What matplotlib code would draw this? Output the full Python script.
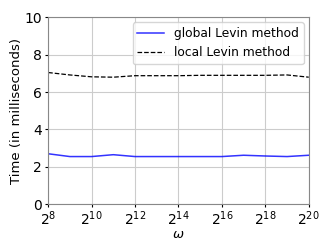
import matplotlib
matplotlib.use("Agg")
import matplotlib.pyplot as plt
import numpy as np

# exponents of omega (2^8 ... 2^20)
exponents = [8, 9, 10, 11, 12, 13, 14, 15, 16, 17, 18, 19, 20]
global_levin = [2.70, 2.55, 2.55, 2.65, 2.55, 2.55, 2.55, 2.55, 2.55, 2.62, 2.58, 2.55, 2.62]
local_levin = [7.05, 6.92, 6.82, 6.80, 6.88, 6.88, 6.88, 6.90, 6.90, 6.90, 6.90, 6.92, 6.80]

omega = [2.0 ** e for e in exponents]

fig, ax = plt.subplots(figsize=(3.32, 2.49), dpi=100)
ax.plot(omega, global_levin, color="blue", lw=1.1, alpha=0.8, label="global Levin method")
ax.plot(omega, local_levin, color="black", ls="--", lw=0.9, label="local Levin method")

ax.set_xscale("log", base=2)
ax.set_xlim(2 ** 8, 2 ** 20)
ax.set_ylim(0, 10)
ax.set_xticks([2.0 ** e for e in range(8, 21, 2)])
ax.set_yticks([0, 2, 4, 6, 8, 10])
ax.minorticks_off()
ax.grid(True, color="#cccccc", lw=0.8)
ax.tick_params(labelsize=10, length=2)
ax.tick_params(axis="y", pad=2.5)
ax.tick_params(axis="x", pad=2)
for s in ax.spines.values():
    s.set_color("#888888")

ax.set_xlabel(r"$\omega$", fontsize=9.5, labelpad=0)
ax.set_ylabel("Time (in milliseconds)", fontsize=9.5, labelpad=1)
ax.legend(loc="upper right", fontsize=8.8, handlelength=2.2, borderaxespad=0.4)

fig.subplots_adjust(left=0.145, right=0.93, top=0.93, bottom=0.18)
fig.savefig("out.png", dpi=100)
